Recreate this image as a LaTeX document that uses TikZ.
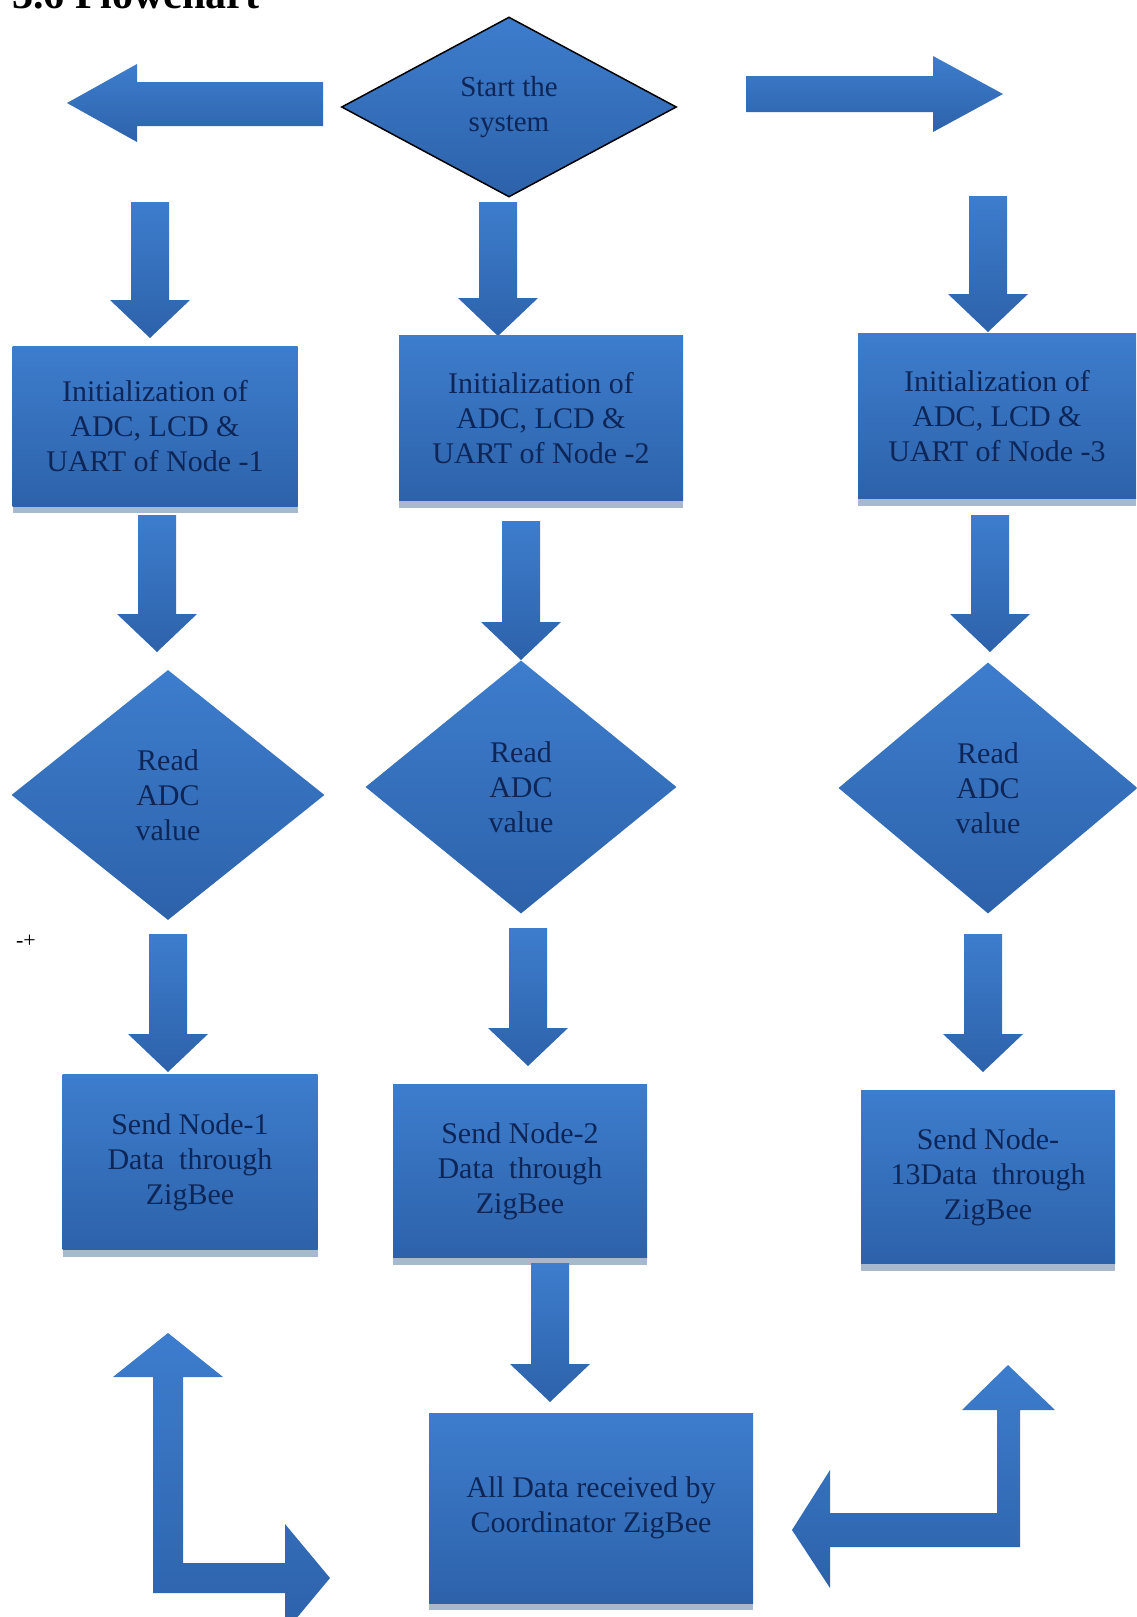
\documentclass[tikz,border=0pt]{standalone}
\usepackage{fontspec}
\setmainfont{Liberation Serif}
\usetikzlibrary{shapes.geometric,shadows}
\definecolor{txtnavy}{HTML}{0E2657}
\definecolor{bluetop}{HTML}{3D7DCD}
\definecolor{bluebot}{HTML}{2D62AA}
\definecolor{shadowc}{HTML}{A9B8CC}
\tikzset{
  boxtext/.style={align=center,text=txtnavy,font=\fontsize{30}{35}\selectfont},
  procbox/.style={rectangle,inner sep=0pt,top color=bluetop,bottom color=bluebot,boxtext,
     general shadow={fill=shadowc,shadow yshift=-7pt}},
  decbox/.style={diamond,inner sep=0pt,top color=bluetop,bottom color=bluebot,boxtext},
  arrowshade/.style={top color=bluetop,bottom color=bluebot},
}
\newcommand{\DownBlock}[3]{%
  \path[arrowshade] ({#1-19},#2) -- ({#1+19},#2) -- ({#1+19},{#3-38}) -- ({#1+40},{#3-38})
    -- (#1,#3) -- ({#1-40},{#3-38}) -- ({#1-19},{#3-38}) -- cycle;}
\begin{document}
\begin{tikzpicture}[x=1pt,y=-1pt]
\useasboundingbox[fill=white] (0,0) rectangle (1136,1617);
% title
\node[anchor=base west,inner sep=0pt,font=\bfseries\fontsize{42}{42}\selectfont] (title) at (12,8) {3.6 Flowchart};
\node[inner sep=0pt,font=\fontsize{22}{22}\selectfont] (mark) at (26,941) {-+};
% start diamond
\node[decbox,draw=black,line width=1.5pt,minimum width=335pt,minimum height=180pt,
      font=\fontsize{29}{35}\selectfont] (start) at (509,107) {Start the\\system};
% top horizontal arrows
\path[arrowshade] (67,103) -- (137,64) -- (137,82) -- (323,82) -- (323,126) -- (137,126) -- (137,142) -- cycle;
\path[arrowshade] (1003,94) -- (933,56) -- (933,76) -- (746,76) -- (746,112) -- (933,112) -- (933,132) -- cycle;
% row 1 down arrows
\DownBlock{150}{202}{338}
\DownBlock{498}{202}{336}
\DownBlock{988}{196}{332}
% init boxes
\node[procbox,minimum width=285pt,minimum height=160pt] (init1) at (155,426) {Initialization of\\ADC, LCD \&\\UART of Node -1};
\node[procbox,minimum width=284pt,minimum height=165pt] (init2) at (541,418) {Initialization of\\ADC, LCD \&\\UART of Node -2};
\node[procbox,minimum width=278pt,minimum height=165pt] (init3) at (997,416) {Initialization of\\ADC, LCD \&\\UART of Node -3};
% row 2 down arrows
\DownBlock{157}{515}{652}
\DownBlock{521}{521}{660}
\DownBlock{990}{515}{652}
% read diamonds
\node[decbox,minimum width=313pt,minimum height=250pt] (read1) at (168,795) {Read\\ADC\\value};
\node[decbox,minimum width=311pt,minimum height=253pt] (read2) at (521,787) {Read\\ADC\\value};
\node[decbox,minimum width=299pt,minimum height=251pt] (read3) at (988,788) {Read\\ADC\\value};
% row 3 down arrows
\DownBlock{168}{934}{1072}
\DownBlock{528}{928}{1066}
\DownBlock{983}{934}{1072}
% send boxes
\node[procbox,minimum width=255pt,minimum height=175pt] (send1) at (190,1162) {Send Node-1\\Data\ \ through\\ZigBee};
\node[procbox,minimum width=254pt,minimum height=173pt] (send2) at (520,1171) {Send Node-2\\Data\ \ through\\ZigBee};
\node[procbox,minimum width=254pt,minimum height=173pt] (send3) at (988,1177) {Send Node-\\13Data\ \ through\\ZigBee};
% row 4 arrow
\DownBlock{550}{1263}{1402}
% coordinator box
\node[procbox,minimum width=324pt,minimum height=190pt] (coord) at (591,1508) {All Data received by\\Coordinator ZigBee};
% L arrows
\path[arrowshade] (168,1333) -- (223,1377) -- (183,1377) -- (183,1563) -- (285,1563) -- (285,1524)
  -- (330,1578) -- (285,1632) -- (285,1593) -- (153,1593) -- (153,1377) -- (113,1377) -- cycle;
\path[arrowshade] (1008,1365) -- (1055,1410) -- (1020,1410) -- (1020,1547) -- (830,1547) -- (830,1588)
  -- (792,1530) -- (830,1470) -- (830,1513) -- (997,1513) -- (997,1410) -- (962,1410) -- cycle;
\end{tikzpicture}
\end{document}
